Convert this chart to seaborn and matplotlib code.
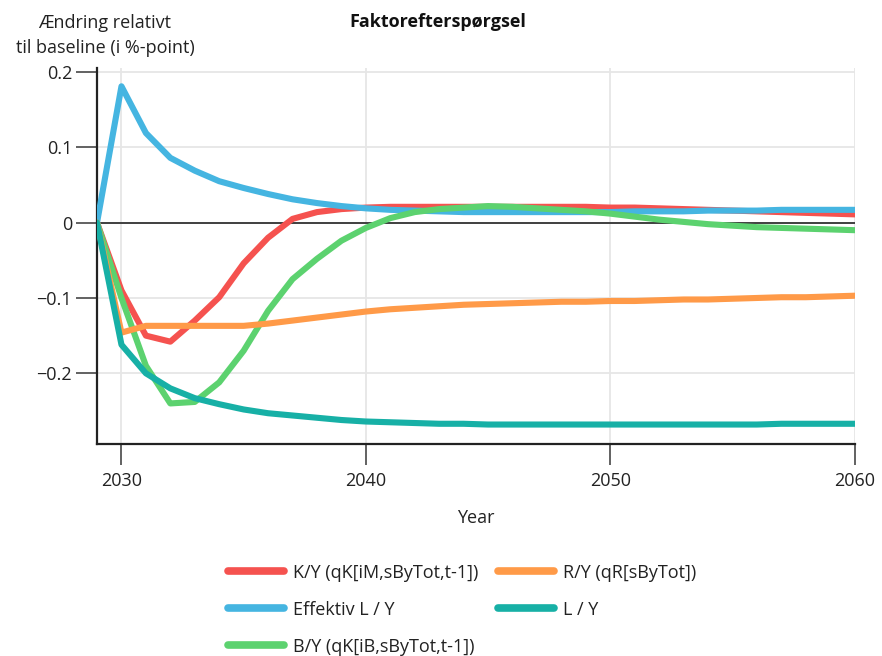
import numpy as np
import pandas as pd
import matplotlib
matplotlib.use("Agg")
import matplotlib.pyplot as plt
import seaborn as sns

years = list(range(2029, 2061))

ky = [0.0, -0.090, -0.150, -0.158, -0.130, -0.099, -0.054, -0.020, 0.005, 0.014,
      0.018, 0.020, 0.021, 0.021, 0.021, 0.021, 0.021, 0.021, 0.021, 0.021,
      0.021, 0.020, 0.020, 0.019, 0.018, 0.017, 0.016, 0.015, 0.014, 0.013,
      0.012, 0.011]
ry = [0.0, -0.146, -0.137, -0.137, -0.137, -0.137, -0.137, -0.134, -0.130, -0.126,
      -0.122, -0.118, -0.115, -0.113, -0.111, -0.109, -0.108, -0.107, -0.106, -0.105,
      -0.105, -0.104, -0.104, -0.103, -0.102, -0.102, -0.101, -0.100, -0.099, -0.099,
      -0.098, -0.097]
efl = [0.0, 0.181, 0.119, 0.086, 0.069, 0.055, 0.046, 0.038, 0.031, 0.026,
       0.022, 0.019, 0.017, 0.016, 0.015, 0.014, 0.014, 0.014, 0.014, 0.014,
       0.014, 0.014, 0.015, 0.015, 0.015, 0.016, 0.016, 0.016, 0.017, 0.017,
       0.017, 0.017]
ly = [0.0, -0.162, -0.200, -0.220, -0.233, -0.241, -0.248, -0.253, -0.256, -0.259,
      -0.262, -0.264, -0.265, -0.266, -0.267, -0.267, -0.268, -0.268, -0.268, -0.268,
      -0.268, -0.268, -0.268, -0.268, -0.268, -0.268, -0.268, -0.268, -0.267, -0.267,
      -0.267, -0.267]
by = [0.0, -0.100, -0.190, -0.240, -0.238, -0.212, -0.170, -0.117, -0.075, -0.048,
      -0.024, -0.007, 0.006, 0.014, 0.018, 0.020, 0.022, 0.021, 0.019, 0.017,
      0.015, 0.012, 0.008, 0.004, 0.001, -0.002, -0.004, -0.006, -0.007, -0.008,
      -0.009, -0.010]

labels = ["K/Y (qK[iM,sByTot,t-1])", "Effektiv L / Y", "B/Y (qK[iB,sByTot,t-1])",
          "R/Y (qR[sByTot])", "L / Y"]
colors = ["#F5524F", "#45B5E1", "#5CD26F", "#FF9A48", "#17B0A6"]
series = [ky, efl, by, ry, ly]

xticks = [2030, 2040, 2050, 2060]
yticks = [0.2, 0.1, 0, -0.1, -0.2]
yticklabels = ["0.2", "0.1", "0", "\u22120.1", "\u22120.2"]

df = pd.concat([pd.DataFrame({"Year": years, "value": s, "series": lab})
                for s, lab in zip(series, labels)], ignore_index=True)

sns.set_theme(style="white")
plt.rcParams['font.family'] = ['Open Sans', 'DejaVu Sans']

fig = plt.figure(figsize=(8.82, 6.56), dpi=100)
ax = fig.add_axes([0.110, 0.323, 0.859, 0.573])

ax.axhline(0, color="#333333", lw=1.3, zorder=1)
sns.lineplot(data=df, x="Year", y="value", hue="series", hue_order=labels,
             palette=dict(zip(labels, colors)), lw=4.4, ax=ax, zorder=3,
             legend=True)

ax.set_xlim(2029, 2060)
ax.set_ylim(-0.294, 0.205)
ax.set_xticks(xticks)
ax.set_yticks(yticks)
ax.set_yticklabels(yticklabels)
ax.grid(True, color="#e6e6e6", lw=1.3)
ax.set_axisbelow(True)
for s in ["top", "right"]:
    ax.spines[s].set_visible(False)
for s in ["left", "bottom"]:
    ax.spines[s].set_color("#222222")
    ax.spines[s].set_linewidth(1.6)
ax.tick_params(axis="both", which="both", direction="out", length=15, width=1.3,
               color="#555555", labelsize=13, left=True, bottom=True,
               labelcolor="#222222")
ax.tick_params(axis="x", pad=5)
ax.tick_params(axis="y", pad=3)
ax.set_xlabel("Year", fontsize=13, labelpad=14, color="#222222")
ax.set_ylabel("")

fig.text(0.496, 0.966, "Faktorefterspørgsel", ha="center", va="center",
         fontsize=13, fontweight="bold", color="#111111")
fig.text(0.119, 0.946, "Ændring relativt\ntil baseline (i %-point)", ha="center",
         va="center", fontsize=13, linespacing=1.55, color="#222222")

handles, labs = ax.get_legend_handles_labels()
ax.get_legend().remove()
leg = fig.legend(handles, labs, loc="upper center", bbox_to_anchor=(0.524, 0.149),
                 ncol=2, frameon=False, fontsize=13, handlelength=3.1,
                 handletextpad=0.5, columnspacing=1.1, labelspacing=1.05,
                 borderaxespad=0, borderpad=0.3)
for l in leg.get_lines():
    l.set_linewidth(5.5)
for t in leg.get_texts():
    t.set_color("#222222")

fig.savefig("out.png", dpi=100)
